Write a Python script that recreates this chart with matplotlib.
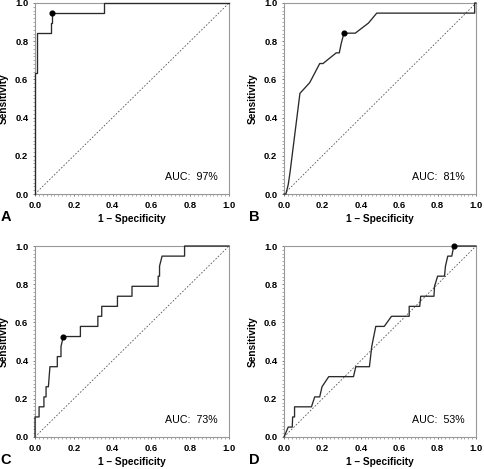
import numpy as np
import matplotlib
matplotlib.use('Agg')
import matplotlib.pyplot as plt
from matplotlib.ticker import MultipleLocator

# ===============================
# 1. DATA
# ===============================
a_fpr = [0, 0, 0.01, 0.01, 0.081, 0.081, 0.089, 0.089, 0.357, 0.357, 1.0]
a_tpr = [0, 0.632, 0.632, 0.842, 0.842, 0.895, 0.895, 0.947, 0.947, 1.0, 1.0]
a_cut = (0.089, 0.947)

b_fpr = [0, 0.01, 0.022, 0.031, 0.083, 0.134, 0.186, 0.203, 0.272, 0.288,
         0.298, 0.312, 0.371, 0.44, 0.483, 0.993, 0.993, 1.0]
b_tpr = [0, 0, 0.049, 0.11, 0.527, 0.583, 0.683, 0.683, 0.739, 0.739,
         0.788, 0.842, 0.842, 0.895, 0.947, 0.947, 1.0, 1.0]
b_cut = (0.312, 0.842)

c_fpr = [0, 0, 0.021, 0.021, 0.046, 0.046, 0.057, 0.057, 0.069, 0.077,
         0.115, 0.115, 0.134, 0.134, 0.146, 0.234, 0.234, 0.324, 0.324,
         0.344, 0.344, 0.425, 0.425, 0.5, 0.5, 0.635, 0.635, 0.642, 0.642,
         0.655, 0.771, 0.771, 1.0]
c_tpr = [0, 0.105, 0.105, 0.158, 0.158, 0.21, 0.21, 0.263, 0.263, 0.368,
         0.368, 0.421, 0.421, 0.474, 0.526, 0.526, 0.579, 0.579, 0.632,
         0.632, 0.684, 0.684, 0.737, 0.737, 0.789, 0.789, 0.842, 0.842, 0.895,
         0.947, 0.947, 1.0, 1.0]
c_cut = (0.146, 0.526)

d_fpr = [0, 0.022, 0.043, 0.045, 0.055, 0.055, 0.143, 0.16, 0.186, 0.198,
         0.233, 0.362, 0.374, 0.445, 0.457, 0.478, 0.522, 0.56, 0.652, 0.652,
         0.707, 0.712, 0.781, 0.784, 0.80, 0.836, 0.841, 0.853, 0.874, 0.884, 1.0]
d_tpr = [0, 0.052, 0.052, 0.105, 0.105, 0.158, 0.158, 0.21, 0.21, 0.263,
         0.316, 0.316, 0.368, 0.368, 0.474, 0.579, 0.579, 0.632, 0.632, 0.684,
         0.684, 0.737, 0.737, 0.789, 0.842, 0.842, 0.895, 0.947, 0.947, 1.0, 1.0]
d_cut = (0.884, 1.0)

letters = ['A', 'B', 'C', 'D']
auc_labels = ['AUC:  97%', 'AUC:  81%', 'AUC:  73%', 'AUC:  53%']
ticks = [0.0, 0.2, 0.4, 0.6, 0.8, 1.0]

curves = [(a_fpr, a_tpr, a_cut), (b_fpr, b_tpr, b_cut),
          (c_fpr, c_tpr, c_cut), (d_fpr, d_tpr, d_cut)]

# ===============================
# 2. FIGURE
# ===============================
plt.rcParams['font.family'] = ['Liberation Sans', 'DejaVu Sans']

W, H = 484, 469
fig = plt.figure(figsize=(W / 100, H / 100), dpi=100)

# axes boxes in pixels: left, top, right, bottom
boxes = [(35, 3, 229, 194), (284, 3, 476, 194),
         (35, 246, 229, 437), (284, 246, 476, 437)]

for i, (fpr, tpr, cut) in enumerate(curves):
    l, t, r, b = boxes[i]
    ax = fig.add_axes([l / W, 1 - b / H, (r - l) / W, (b - t) / H])

    ax.plot([0, 1], [0, 1], color='#555555', lw=0.6, ls=(0, (2, 2)))
    # curve drawn over the frame, as in the original
    ax.plot(fpr, tpr, color='#2a2a2a', lw=0.95, clip_on=False, zorder=5)
    ax.plot(cut[0], cut[1], 'o', color='black', ms=3.4, clip_on=False, zorder=6)

    ax.set_xlim(0, 1)
    ax.set_ylim(0, 1)
    ax.set_xticks(ticks)
    ax.set_yticks(ticks)
    ax.set_xticklabels(['%.1f' % v for v in ticks], fontsize=6.8, fontweight='bold')
    ax.set_yticklabels(['%.1f' % v for v in ticks], fontsize=6.8, fontweight='bold')
    ax.xaxis.set_minor_locator(MultipleLocator(0.02))
    ax.yaxis.set_minor_locator(MultipleLocator(0.02))
    ax.tick_params(which='major', length=1.6, width=0.6, color='#666666', pad=3.2)
    ax.tick_params(which='minor', length=1.3, width=0.5, color='#888888')

    for s in ax.spines.values():
        s.set_color('#999999')
        s.set_linewidth(0.8)

    ax.text(0.94, 0.09, auc_labels[i], transform=ax.transAxes,
            ha='right', va='center', fontsize=7.7)

    # labels placed by pixel offsets from the spines
    ax.text(0.5, -25 / (b - t), '1 \u2013 Specificity', transform=ax.transAxes,
            ha='center', va='center', fontsize=7.3, fontweight='bold')
    ax.text(-31 / (r - l), 0.5, 'Sensitivity', transform=ax.transAxes,
            ha='center', va='center', rotation=90, fontsize=7.3, fontweight='bold')
    ax.text(-29.5 / (r - l), -23 / (b - t), letters[i], transform=ax.transAxes,
            ha='center', va='center', fontsize=10.5, fontweight='bold')

# ===============================
# 3. SAVE
# ===============================
fig.savefig('out.png', dpi=100)
